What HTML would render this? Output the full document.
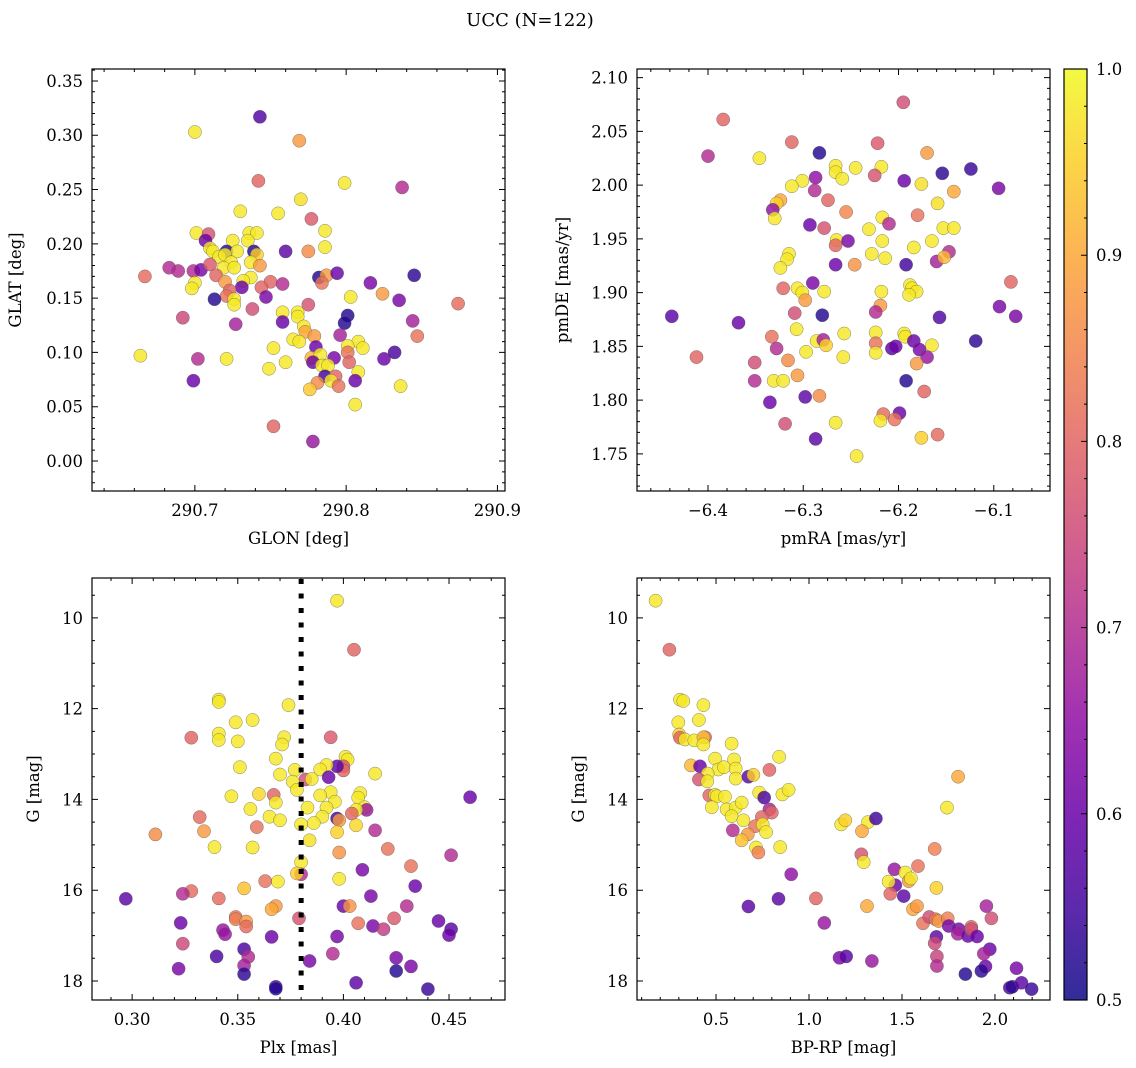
<!DOCTYPE html>
<html><head><meta charset="utf-8">
<style>
html,body{margin:0;padding:0;background:#fff;}
svg{display:block;font-family:"DejaVu Serif","Liberation Serif",serif;}
</style></head>
<body>
<svg id="fig" width="1136" height="1068" viewBox="0 0 1136 1068" xmlns="http://www.w3.org/2000/svg">
<defs>
<linearGradient id="plasma" x1="0" y1="1" x2="0" y2="0">
<stop offset="0" stop-color="#0d0887"/><stop offset="0.1" stop-color="#41049d"/><stop offset="0.2" stop-color="#6a00a8"/><stop offset="0.3" stop-color="#8f0da4"/><stop offset="0.4" stop-color="#b12a90"/><stop offset="0.5" stop-color="#cc4778"/><stop offset="0.6" stop-color="#e16462"/><stop offset="0.7" stop-color="#f2844b"/><stop offset="0.8" stop-color="#fca636"/><stop offset="0.9" stop-color="#fcce25"/><stop offset="1" stop-color="#f0f921"/>
</linearGradient>
</defs>
<text x="530" y="26" text-anchor="middle" font-size="18">UCC (N=122)</text>
</svg>
<script>
// ---- Panel 1: GLON / GLAT ----
const glon=[290.743,290.700,290.769,290.742,290.799,290.837,290.770,290.730,290.755,290.777,290.786,290.701,290.709,290.736,290.741,290.725,290.707,290.735,290.786,290.710,290.721,290.728,290.739,290.760,290.775,290.741,290.712,290.716,290.720,290.724,290.737,290.743,290.683,290.689,290.699,290.704,290.710,290.719,290.726,290.667,290.714,290.782,290.787,290.794,290.845,290.737,290.732,290.750,290.758,290.784,290.816,290.700,290.698,290.720,290.731,290.744,290.723,290.721,290.747,290.803,290.824,290.835,290.874,290.713,290.726,290.726,290.775,290.738,290.758,290.768,290.801,290.844,290.692,290.768,290.758,290.799,290.727,290.772,290.773,290.779,290.796,290.847,290.765,290.769,290.808,290.811,290.801,290.780,290.752,290.801,290.664,290.777,290.783,290.792,290.802,290.825,290.832,290.702,290.721,290.760,290.749,290.778,290.784,290.788,290.808,290.786,290.793,290.790,290.806,290.699,290.781,290.795,290.776,290.836,290.806,290.752,290.778];
const glat=[0.317,0.303,0.295,0.258,0.256,0.252,0.241,0.230,0.228,0.223,0.212,0.210,0.209,0.210,0.210,0.203,0.203,0.203,0.197,0.196,0.193,0.193,0.193,0.193,0.193,0.190,0.193,0.188,0.190,0.183,0.183,0.180,0.178,0.175,0.175,0.176,0.181,0.178,0.178,0.170,0.171,0.169,0.171,0.173,0.171,0.169,0.166,0.165,0.163,0.164,0.164,0.164,0.159,0.165,0.160,0.160,0.157,0.152,0.151,0.151,0.154,0.148,0.145,0.149,0.149,0.144,0.144,0.140,0.137,0.137,0.134,0.129,0.132,0.133,0.128,0.127,0.126,0.124,0.119,0.115,0.116,0.115,0.112,0.110,0.110,0.104,0.106,0.105,0.104,0.100,0.097,0.095,0.098,0.095,0.091,0.094,0.100,0.094,0.094,0.091,0.085,0.091,0.088,0.088,0.082,0.078,0.078,0.074,0.074,0.074,0.072,0.069,0.066,0.069,0.052,0.032,0.018];
const prob1=[0.57,0.98,0.88,0.80,0.98,0.70,0.97,0.98,0.98,0.78,0.98,0.98,0.77,0.98,0.98,0.98,0.60,0.98,0.98,0.97,0.52,0.98,0.52,0.58,0.86,0.95,0.98,0.98,0.98,0.98,0.98,0.88,0.70,0.70,0.70,0.62,0.78,0.98,0.98,0.81,0.80,0.52,0.88,0.60,0.53,0.98,0.98,0.80,0.70,0.82,0.62,0.98,0.98,0.88,0.60,0.80,0.80,0.82,0.62,0.98,0.88,0.62,0.81,0.52,0.98,0.98,0.77,0.76,0.98,0.98,0.52,0.68,0.75,0.98,0.60,0.52,0.68,0.98,0.90,0.88,0.68,0.82,0.98,0.98,0.98,0.98,0.98,0.60,0.98,0.82,0.98,0.92,0.98,0.62,0.80,0.60,0.56,0.70,0.98,0.98,0.98,0.60,0.98,0.98,0.98,0.55,0.80,0.98,0.60,0.60,0.86,0.82,0.94,0.98,0.98,0.80,0.66];
// ---- Panel 2: pmRA / pmDE ----
const pmra=[-6.195,-6.384,-6.312,-6.222,-6.283,-6.170,-6.400,-6.346,-6.266,-6.245,-6.218,-6.154,-6.124,-6.266,-6.259,-6.225,-6.287,-6.301,-6.312,-6.194,-6.176,-6.095,-6.288,-6.142,-6.274,-6.324,-6.328,-6.159,-6.332,-6.255,-6.180,-6.330,-6.217,-6.210,-6.293,-6.278,-6.231,-6.153,-6.142,-6.265,-6.266,-6.253,-6.217,-6.165,-6.184,-6.315,-6.228,-6.147,-6.317,-6.214,-6.160,-6.152,-6.324,-6.266,-6.246,-6.192,-6.290,-6.321,-6.306,-6.301,-6.278,-6.218,-6.188,-6.186,-6.181,-6.189,-6.082,-6.298,-6.219,-6.224,-6.309,-6.280,-6.438,-6.094,-6.077,-6.157,-6.368,-6.307,-6.257,-6.224,-6.194,-6.193,-6.333,-6.286,-6.279,-6.276,-6.224,-6.184,-6.165,-6.119,-6.328,-6.207,-6.203,-6.178,-6.170,-6.297,-6.224,-6.258,-6.412,-6.351,-6.316,-6.181,-6.306,-6.331,-6.321,-6.351,-6.192,-6.173,-6.298,-6.283,-6.335,-6.216,-6.199,-6.219,-6.204,-6.266,-6.319,-6.159,-6.176,-6.287,-6.244];
const pmde=[2.077,2.061,2.040,2.039,2.030,2.030,2.027,2.025,2.018,2.016,2.017,2.011,2.015,2.012,2.006,2.009,2.007,2.004,1.999,2.004,2.001,1.997,1.995,1.994,1.986,1.986,1.983,1.983,1.977,1.975,1.972,1.969,1.970,1.964,1.963,1.960,1.959,1.960,1.960,1.949,1.944,1.948,1.948,1.948,1.942,1.936,1.936,1.938,1.931,1.932,1.929,1.933,1.923,1.926,1.926,1.926,1.909,1.904,1.904,1.900,1.901,1.901,1.907,1.904,1.901,1.898,1.910,1.893,1.888,1.882,1.881,1.879,1.878,1.887,1.878,1.877,1.872,1.866,1.862,1.863,1.862,1.859,1.859,1.855,1.856,1.851,1.853,1.855,1.851,1.855,1.848,1.848,1.850,1.847,1.840,1.845,1.844,1.840,1.840,1.835,1.837,1.834,1.823,1.818,1.818,1.818,1.818,1.808,1.803,1.804,1.798,1.787,1.788,1.781,1.782,1.779,1.778,1.768,1.765,1.764,1.748];
const prob2=[0.76,0.80,0.80,0.78,0.52,0.88,0.70,0.98,0.98,0.98,0.98,0.53,0.54,0.98,0.98,0.77,0.65,0.98,0.98,0.60,0.97,0.62,0.70,0.90,0.80,0.90,0.95,0.97,0.65,0.85,0.82,0.98,0.98,0.70,0.60,0.77,0.98,0.98,0.98,0.98,0.80,0.62,0.98,0.98,0.98,0.98,0.98,0.70,0.98,0.98,0.68,0.92,0.98,0.60,0.87,0.55,0.62,0.80,0.98,0.98,0.98,0.98,0.98,0.98,0.98,0.98,0.80,0.88,0.88,0.70,0.76,0.52,0.58,0.62,0.62,0.57,0.60,0.98,0.98,0.98,0.98,0.98,0.82,0.98,0.68,0.95,0.82,0.60,0.98,0.53,0.70,0.58,0.60,0.62,0.66,0.98,0.98,0.98,0.80,0.76,0.86,0.88,0.88,0.98,0.98,0.70,0.52,0.80,0.58,0.86,0.60,0.81,0.60,0.98,0.82,0.98,0.76,0.81,0.95,0.58,0.98];
// ---- Panel 3: Plx / G ----
const plx=[0.397,0.405,0.341,0.341,0.374,0.349,0.357,0.328,0.341,0.341,0.350,0.372,0.371,0.394,0.401,0.402,0.368,0.400,0.400,0.397,0.351,0.392,0.389,0.377,0.370,0.415,0.393,0.382,0.385,0.376,0.378,0.394,0.347,0.360,0.367,0.368,0.389,0.396,0.408,0.407,0.460,0.356,0.383,0.392,0.410,0.411,0.406,0.404,0.332,0.365,0.370,0.390,0.397,0.398,0.380,0.386,0.406,0.359,0.311,0.334,0.397,0.415,0.384,0.339,0.357,0.398,0.421,0.451,0.380,0.432,0.409,0.380,0.378,0.398,0.369,0.363,0.353,0.434,0.328,0.324,0.413,0.297,0.341,0.400,0.403,0.368,0.366,0.430,0.349,0.349,0.354,0.354,0.379,0.407,0.424,0.445,0.323,0.414,0.419,0.451,0.450,0.343,0.344,0.366,0.397,0.324,0.395,0.353,0.355,0.340,0.384,0.425,0.353,0.432,0.322,0.425,0.353,0.406,0.368,0.368,0.440];
const gmag3=[9.62,10.70,11.80,11.85,11.92,12.30,12.25,12.64,12.55,12.69,12.72,12.63,12.79,12.63,13.06,13.12,13.10,13.27,13.36,13.27,13.29,13.24,13.34,13.35,13.45,13.43,13.51,13.56,13.55,13.61,13.79,13.84,13.93,13.88,13.90,14.07,13.91,14.05,13.86,13.96,13.95,14.21,14.18,14.18,14.17,14.23,14.23,14.31,14.39,14.38,14.46,14.38,14.42,14.46,14.55,14.52,14.57,14.61,14.77,14.70,14.72,14.68,14.90,15.05,15.06,15.17,15.09,15.23,15.38,15.47,15.55,15.65,15.63,15.75,15.81,15.80,15.96,15.91,16.02,16.08,16.13,16.19,16.18,16.35,16.35,16.35,16.42,16.35,16.59,16.64,16.69,16.80,16.62,16.73,16.62,16.68,16.72,16.79,16.86,16.86,16.99,16.88,16.97,17.03,17.02,17.18,17.40,17.30,17.47,17.46,17.56,17.49,17.66,17.68,17.73,17.78,17.85,18.04,18.13,18.17,18.18];
const prob3=[0.98,0.80,0.98,0.98,0.98,0.98,0.98,0.80,0.98,0.98,0.98,0.98,0.98,0.78,0.98,0.98,0.98,0.77,0.80,0.58,0.98,0.98,0.98,0.98,0.98,0.98,0.60,0.76,0.98,0.98,0.98,0.98,0.98,0.96,0.80,0.98,0.98,0.98,0.98,0.98,0.60,0.98,0.98,0.98,0.98,0.66,0.98,0.80,0.81,0.98,0.98,0.98,0.55,0.88,0.98,0.98,0.96,0.82,0.86,0.88,0.95,0.70,0.97,0.98,0.98,0.87,0.82,0.70,0.98,0.82,0.62,0.70,0.95,0.98,0.98,0.82,0.93,0.60,0.81,0.70,0.62,0.58,0.81,0.60,0.87,0.88,0.90,0.70,0.82,0.84,0.88,0.81,0.77,0.82,0.78,0.60,0.60,0.62,0.73,0.58,0.60,0.66,0.66,0.60,0.62,0.75,0.70,0.56,0.70,0.56,0.62,0.62,0.68,0.62,0.62,0.52,0.53,0.58,0.55,0.52,0.54];
// ---- Panel 4: BP-RP / G ----
const bprp=[0.175,0.249,0.306,0.324,0.432,0.297,0.408,0.302,0.306,0.333,0.383,0.441,0.432,0.432,0.584,0.839,0.365,0.414,0.495,0.597,0.513,0.543,0.606,0.455,0.408,0.453,0.606,0.674,0.701,0.787,0.464,0.495,0.504,0.548,0.732,0.759,0.857,0.890,0.477,0.557,0.606,0.638,0.584,0.647,0.787,0.800,0.746,0.710,0.751,0.769,0.590,0.671,0.638,0.715,0.728,0.845,0.904,0.674,0.836,1.037,1.082,1.164,1.200,1.338,1.173,1.195,1.317,1.360,1.285,1.281,1.294,1.312,1.459,1.464,1.428,1.437,1.509,1.518,1.536,1.548,1.586,1.559,1.581,1.676,1.685,1.742,1.802,1.613,1.647,1.680,1.697,1.746,1.751,1.685,1.676,1.688,1.688,1.805,1.800,1.855,1.873,1.873,1.904,1.954,1.981,1.972,1.940,1.949,1.927,1.841,2.116,2.080,2.093,2.143,2.197];
const gmag4=[9.62,10.70,11.80,11.83,11.92,12.30,12.25,12.57,12.64,12.68,12.70,12.63,12.63,12.79,12.77,13.06,13.25,13.27,13.10,13.12,13.34,13.29,13.32,13.43,13.56,13.60,13.54,13.50,13.46,13.35,13.91,13.90,13.93,13.94,13.85,13.96,13.89,13.79,14.17,14.22,14.18,14.07,14.37,14.46,14.22,14.29,14.39,14.59,14.55,14.72,14.68,14.77,14.90,15.06,15.17,15.05,15.65,16.36,16.19,16.18,16.72,17.49,17.46,17.56,14.55,14.46,14.50,14.42,14.70,15.21,15.38,16.35,15.54,15.89,15.81,16.08,16.13,15.61,15.80,15.74,15.47,16.42,16.35,15.09,15.95,14.18,13.50,16.73,16.59,16.64,16.68,16.62,16.79,17.03,17.17,17.46,17.67,16.86,16.96,17.01,16.81,16.86,17.02,16.35,16.62,17.30,17.40,17.68,17.78,17.85,17.72,18.15,18.13,18.04,18.18];
const prob4=[0.98,0.80,0.98,0.98,0.98,0.98,0.98,0.95,0.80,0.98,0.98,0.80,0.93,0.98,0.98,0.98,0.92,0.60,0.98,0.98,0.98,0.98,0.98,0.98,0.77,0.98,0.98,0.58,0.95,0.80,0.80,0.98,0.98,0.98,0.98,0.56,0.98,0.98,0.98,0.98,0.98,0.98,0.98,0.98,0.68,0.80,0.80,0.82,0.98,0.98,0.70,0.88,0.93,0.98,0.84,0.98,0.65,0.58,0.58,0.80,0.66,0.62,0.58,0.66,0.98,0.95,0.98,0.55,0.90,0.77,0.98,0.90,0.66,0.60,0.98,0.80,0.58,0.98,0.88,0.98,0.82,0.90,0.88,0.84,0.95,0.98,0.90,0.82,0.76,0.82,0.88,0.84,0.62,0.58,0.75,0.74,0.70,0.62,0.68,0.60,0.80,0.76,0.60,0.68,0.76,0.60,0.68,0.60,0.53,0.52,0.62,0.56,0.53,0.58,0.54];
// ---- Tick labels ----
const p1xTicks=[290.7,290.8,290.9];
const p1yTicks=[0.00,0.05,0.10,0.15,0.20,0.25,0.30,0.35];
const p2xTicks=[-6.4,-6.3,-6.2,-6.1];
const p2yTicks=[1.75,1.80,1.85,1.90,1.95,2.00,2.05,2.10];
const p3xTicks=[0.30,0.35,0.40,0.45];
const gTicks=[10,12,14,16,18];
const p4xTicks=[0.5,1.0,1.5,2.0];
const cbTicks=[0.5,0.6,0.7,0.8,0.9,1.0];
const plxLine=[0.380];

const NS="http://www.w3.org/2000/svg";
const svg=document.getElementById('fig');
const FS='16.5';
function el(tag,parent){const e=document.createElementNS(NS,tag);(parent||svg).appendChild(e);return e;}
const stops=[[13,8,135],[65,4,157],[106,0,168],[143,13,164],[177,42,144],[204,71,120],[225,100,98],[242,132,75],[252,166,54],[252,206,37],[240,249,33]];
function plasma(v){let t=Math.max(0,Math.min(1,(v-0.5)/0.5))*10;let i=Math.min(9,Math.floor(t));let f=t-i;const a=stops[i],b=stops[i+1];return 'rgb('+[0,1,2].map(k=>Math.round(a[k]+(b[k]-a[k])*f)).join(',')+')';}
function fmt(v,d){let s=v.toFixed(d);return s.replace('-','\u2212');}

function panel(name,box,xd,yd,xs,ys,cs,xt,xdec,xminor,yt,ydec,yminor,xlab,ylab,ylabX){
  const g=el('g');
  
  
  const X=v=>box[0]+(v-xd[0])/(xd[1]-xd[0])*(box[2]-box[0]);
  const Y=v=>box[3]+(v-yd[0])/(yd[1]-yd[0])*(box[1]-box[3]);
  const pts=el('g',g);
  
  
  for(let i=0;i<xs.length;i++){
    const c=el('circle',pts);
    c.setAttribute('cx',X(xs[i]).toFixed(1));c.setAttribute('cy',Y(ys[i]).toFixed(1));c.setAttribute('r','6.6');
    c.setAttribute('fill',plasma(cs[i]));c.setAttribute('fill-opacity','0.82');
    c.setAttribute('stroke','#555');c.setAttribute('stroke-width','0.5');c.setAttribute('stroke-opacity','0.7');
    
    
  }
  const fr=el('rect',g);
  fr.setAttribute('x',box[0]);fr.setAttribute('y',box[1]);fr.setAttribute('width',box[2]-box[0]);fr.setAttribute('height',box[3]-box[1]);
  fr.setAttribute('fill','none');fr.setAttribute('stroke','#000');fr.setAttribute('stroke-width','1.2');
  
  
  let d='';
  const xlo=Math.min(xd[0],xd[1]),xhi=Math.max(xd[0],xd[1]);
  for(let v=Math.ceil(xlo/xminor-1e-6)*xminor;v<=xhi;v+=xminor){const p=X(v);if(p<box[0]+0.5||p>box[2]-0.5)continue;d+=`M${p},${box[3]}v-3M${p},${box[1]}v3`;}
  const ylo=Math.min(yd[0],yd[1]),yhi=Math.max(yd[0],yd[1]);
  for(let v=Math.ceil(ylo/yminor-1e-6)*yminor;v<=yhi;v+=yminor){const p=Y(v);if(p<box[1]+0.5||p>box[3]-0.5)continue;d+=`M${box[0]},${p}h3M${box[2]},${p}h-3`;}
  xt.forEach(v=>{const p=X(v);d+=`M${p},${box[3]}v-6M${p},${box[1]}v6`;
    const t=el('text',g);t.setAttribute('x',p);t.setAttribute('y',box[3]+25);t.setAttribute('text-anchor','middle');t.setAttribute('font-size',FS);t.textContent=fmt(v,xdec);
    
    });
  yt.forEach(v=>{const p=Y(v);d+=`M${box[0]},${p}h6M${box[2]},${p}h-6`;
    const t=el('text',g);t.setAttribute('x',box[0]-9);t.setAttribute('y',p+6);t.setAttribute('text-anchor','end');t.setAttribute('font-size',FS);t.textContent=fmt(v,ydec);
    
    });
  const tk=el('path',g);tk.setAttribute('d',d);tk.setAttribute('stroke','#000');tk.setAttribute('stroke-width','1');
  
  
  const xl=el('text',g);xl.setAttribute('x',(box[0]+box[2])/2);xl.setAttribute('y',box[3]+53);xl.setAttribute('text-anchor','middle');xl.setAttribute('font-size',FS);xl.textContent=xlab;
  
  
  const yl=el('text',g);const cy=(box[1]+box[3])/2;yl.setAttribute('transform',`translate(${ylabX},${cy}) rotate(-90)`);yl.setAttribute('text-anchor','middle');yl.setAttribute('font-size',FS);yl.textContent=ylab;
  
  
  return {X,Y,g};
}
panel('glon-glat-panel',[92,69,505,491],[290.632,290.905],[-0.0276,0.361],glon,glat,prob1,p1xTicks,1,0.02,p1yTicks,2,0.01,'GLON [deg]','GLAT [deg]',21);
panel('pm-panel',[637,69,1050,491],[-6.4745,-6.041],[1.7155,2.108],pmra,pmde,prob2,p2xTicks,1,0.02,p2yTicks,2,0.01,'pmRA [mas/yr]','pmDE [mas/yr]',568);
const p3=panel('plx-g-panel',[92,578,505,1000],[0.281,0.4765],[18.42,9.12],plx,gmag3,prob3,p3xTicks,2,0.01,gTicks,0,0.5,'Plx [mas]','G [mag]',39);
panel('cmd-panel',[637,578,1050,1000],[0.075,2.296],[18.42,9.12],bprp,gmag4,prob4,p4xTicks,1,0.1,gTicks,0,0.5,'BP-RP [mag]','G [mag]',584);
plxLine.forEach(v=>{const l=el('line',p3.g);l.setAttribute('x1',p3.X(v));l.setAttribute('x2',p3.X(v));l.setAttribute('y1',579);l.setAttribute('y2',999);
  l.setAttribute('stroke','#000');l.setAttribute('stroke-width','5');l.setAttribute('stroke-dasharray','5 9.5');
  
  });
// colorbar
const cb=el('g');


const cr=el('rect',cb);cr.setAttribute('x',1064);cr.setAttribute('y',69);cr.setAttribute('width',23);cr.setAttribute('height',931);cr.setAttribute('fill','url(#plasma)');cr.setAttribute('stroke','#000');cr.setAttribute('stroke-width','1.2');cr.setAttribute('fill-opacity','0.85');


const CY=v=>1000-(v-0.5)/0.5*931;
let cd='';
for(let v=0.5;v<=1.0001;v+=0.02){cd+=`M1087,${CY(v)}h-3`;}
cbTicks.forEach(v=>{cd+=`M1087,${CY(v)}h-6`;const t=el('text',cb);t.setAttribute('x',1096);t.setAttribute('y',CY(v)+6);t.setAttribute('font-size',FS);t.textContent=v.toFixed(1);
  
  });
const ct=el('path',cb);ct.setAttribute('d',cd);ct.setAttribute('stroke','#000');ct.setAttribute('stroke-width','1');


</script>
</body></html>
